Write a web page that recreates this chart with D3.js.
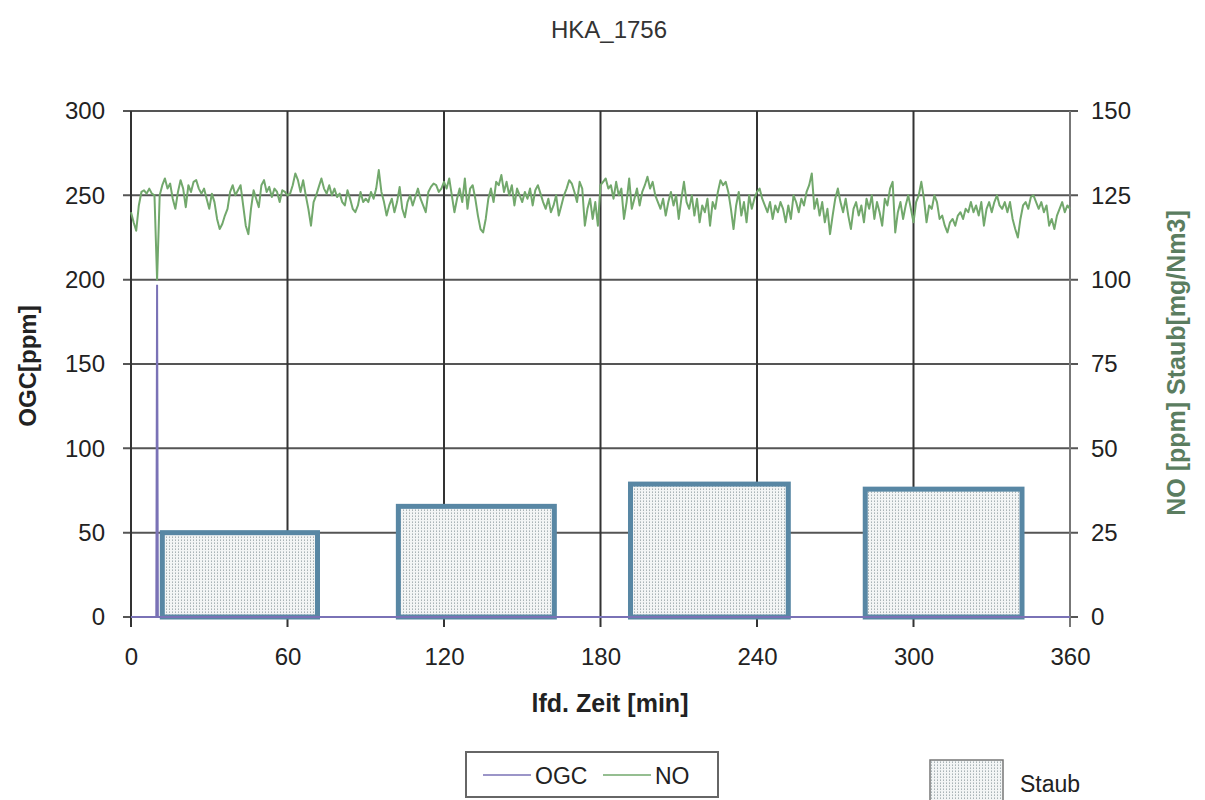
<!DOCTYPE html>
<html><head><meta charset="utf-8">
<script src="https://cdn.jsdelivr.net/npm/d3@7"></script>
<style>
body{margin:0;background:#fff;}
svg{display:block;font-family:"Liberation Sans",Arial,sans-serif;}
</style>
</head><body>
<svg id="chart" width="1205" height="800"></svg>
<script>
// ---------- data ----------
const chartTitle = "HKA_1756";
const xTicks = [0, 60, 120, 180, 240, 300, 360];
const leftTicks = [0, 50, 100, 150, 200, 250, 300];
const rightTicks = [0, 25, 50, 75, 100, 125, 150];
const xLabel = "lfd. Zeit [min]";
const leftLabel = "OGC[ppm]";
const rightLabel = "NO [ppm] Staub[mg/Nm3]";

// OGC [ppm] (left axis), explicit times in minutes
const ogcTimes = [0, 9.7, 10, 10.3, 360];
const ogcValues = [0, 0, 197, 0, 0];

// NO [ppm] (right axis), one value per minute starting at minute 0
const noValues = [
120,117,114.5,122,126,126.5,125.5,127,125.5,125,
100,125,128,130,127,128.5,124,121,126,129.5,
127,121.5,128,126,129,129.5,127,125.5,127,124,
121,125.5,123,118,115,116.5,119,121,126,128,
125,126.5,128,122,116,113.5,121,126.5,124,121.5,
128,129.5,126,127.5,124.5,127,126,123,126.5,126,
125,125.5,128,131.5,129.5,126,129.5,125,121,116,
123,125,127.5,130,127,125.5,128,125,127,124.5,
125.5,123,122,126.5,124,121,120,122,126,123,
124,123,126,124,127,132.5,126,123,119,122,
124,120,123,127.5,121,118.5,123,125,122,124.5,
127,124,122,120,126,127.5,128.5,128,126,127,
129,127,130,125,120,124,127,123,130,121,
127,128,124,119,115,114,118,124,127,123,
129,128,131,126,129,125,128,122,127,125,
123,126,124,127,122,126.5,128,125.5,123,121,
124,120,122,125,119,122,125,127,129.5,128.5,
126,123,129,127,116,121,124,118,123,116,
128,129,130,127,128,124,129,125,127,118,
123,130,121,124,127,122,126,128,130.5,127,
129,125,123,121,124,119,123,126,122,125,
118,124,129,123,121,125,119,124,117,122,
120,124,116,123,121,126,129.5,128,129,126,
121,115,122,126,119,123,117,125,121,124,
126,127,124,122,120,123,118,122,120,123,
121,117,122,118,125,123,120,124,122,126,
128,131.5,121,124,119,123,117,121,113.5,119,
124,127,123,120,124,119,115,121,123,119,
122,117,124,121,125,118,123,120,116,124,
122,127,129,114,120,123,118,122,125,121,
117,123,125,129,124,117,122,121,125,123,
118,119,116,114,117,118,116,119,120,118,
121,120,123,120,122,119,123,116,121,123,
120,123,125,122,121,123,120,123,118,115,
112.5,118,122,123,121,124.5,125,123,121,123,
120,122,116,118,115,119,121,123,120,122,
121
];

// Staub [mg/Nm3] (right axis), sampling intervals in minutes
const staubStart = [12, 102.5, 191.5, 281.5];
const staubEnd = [71.5, 162.3, 252, 341.6];
const staubValues = [25, 32.8, 39.4, 37.9];

// legend entries
const lineLegend = ["OGC", "NO"];
const barLegend = "Staub";

// ---------- drawing ----------
const svg = d3.select("#chart");
const L = 131, R = 1070, T = 111, B = 617;
const x = d3.scaleLinear().domain([0, 360]).range([L, R]);
const yL = d3.scaleLinear().domain([0, 300]).range([B, T]);
const yR = d3.scaleLinear().domain([0, 150]).range([B, T]);

const colOGC = "#7a72b6", colNO = "#72a86c", colBar = "#5887a4";

// pattern for Staub
const defs = svg.append("defs");
const pat = defs.append("pattern").attr("id", "dots").attr("patternUnits", "userSpaceOnUse")
  .attr("width", 3).attr("height", 3);
pat.append("rect").attr("width", 3).attr("height", 3).attr("fill", "#f3f5f5");
pat.append("rect").attr("x", 1).attr("y", 0).attr("width", 1).attr("height", 1).attr("fill", "#a9b3b6");
pat.append("rect").attr("x", 1).attr("y", 2).attr("width", 1).attr("height", 1).attr("fill", "#c6cdcf");

// title
svg.append("text").attr("x", 609).attr("y", 38).attr("text-anchor", "middle")
  .attr("font-size", 24).attr("fill", "#333").text(chartTitle);

// horizontal gridlines
svg.append("g").selectAll("line").data(leftTicks).join("line")
  .attr("x1", L - 8).attr("x2", R + 8)
  .attr("y1", d => yL(d)).attr("y2", d => yL(d))
  .attr("stroke", "#555").attr("stroke-width", 2);

// vertical gridlines
svg.append("g").selectAll("line").data(xTicks).join("line")
  .attr("x1", d => x(d)).attr("x2", d => x(d))
  .attr("y1", T).attr("y2", B + 10)
  .attr("stroke", d => d === 360 ? "#777" : "#333").attr("stroke-width", 2);

// axes labels via d3 axes
const axL = svg.append("g").attr("transform", `translate(${L},0)`)
  .call(d3.axisLeft(yL).tickValues(leftTicks).tickSize(0).tickPadding(26));
const axR = svg.append("g").attr("transform", `translate(${R},0)`)
  .call(d3.axisRight(yR).tickValues(rightTicks).tickSize(0).tickPadding(21));
const axB = svg.append("g").attr("transform", `translate(0,${B})`)
  .call(d3.axisBottom(x).tickValues(xTicks).tickSize(0).tickPadding(31));
[axL, axR, axB].forEach(a => {
  a.select(".domain").remove();
  a.selectAll("text").attr("font-size", 24).attr("fill", "#222")
    .attr("font-family", '"Liberation Sans",Arial,sans-serif');
});

// Staub bars
svg.append("g").selectAll("rect").data(staubValues).join("rect")
  .attr("x", (d, i) => x(staubStart[i]))
  .attr("width", (d, i) => x(staubEnd[i]) - x(staubStart[i]))
  .attr("y", d => yR(d))
  .attr("height", d => B - yR(d))
  .attr("fill", "url(#dots)")
  .attr("stroke", colBar).attr("stroke-width", 5);

// OGC line
svg.append("path")
  .datum(ogcValues.map((v, i) => [ogcTimes[i], v]))
  .attr("fill", "none").attr("stroke", colOGC).attr("stroke-width", 2)
  .attr("d", d3.line().x(d => x(d[0])).y(d => yL(d[1])));

// NO line
svg.append("path")
  .datum(noValues)
  .attr("fill", "none").attr("stroke", colNO).attr("stroke-width", 2)
  .attr("stroke-linejoin", "round")
  .attr("d", d3.line().x((d, i) => x(i)).y(d => yR(d)));

// axis titles
svg.append("text").attr("transform", `translate(36,${(T + B) / 2 + 2}) rotate(-90)`)
  .attr("text-anchor", "middle").attr("font-size", 24).attr("font-weight", "bold")
  .attr("fill", "#222").text(leftLabel);
svg.append("text").attr("transform", `translate(1185,363) rotate(-90)`)
  .attr("text-anchor", "middle").attr("font-size", 25).attr("font-weight", "bold")
  .attr("fill", "#5b7d60").text(rightLabel);
svg.append("text").attr("x", 610).attr("y", 712).attr("text-anchor", "middle")
  .attr("font-size", 25).attr("font-weight", "bold").attr("fill", "#222").text(xLabel);

// legend for lines
const lg = svg.append("g");
lg.append("rect").attr("x", 466).attr("y", 752).attr("width", 252).attr("height", 45)
  .attr("fill", "#fff").attr("stroke", "#666").attr("stroke-width", 2);
const lgX = [483, 603];
const lgCol = [colOGC, colNO];
lineLegend.forEach((name, i) => {
  lg.append("line").attr("x1", lgX[i]).attr("x2", lgX[i] + 48).attr("y1", 775).attr("y2", 775)
    .attr("stroke", lgCol[i]).attr("stroke-width", 1.5);
  lg.append("text").attr("x", lgX[i] + 52).attr("y", 784).attr("font-size", 23)
    .attr("fill", "#222").text(name);
});

// legend for bars
svg.append("rect").attr("x", 930).attr("y", 760).attr("width", 73).attr("height", 50)
  .attr("fill", "url(#dots)").attr("stroke", "#777").attr("stroke-width", 1.5);
svg.append("text").attr("x", 1020).attr("y", 792).attr("font-size", 23)
  .attr("fill", "#222").text(barLegend);
</script>
</body></html>
